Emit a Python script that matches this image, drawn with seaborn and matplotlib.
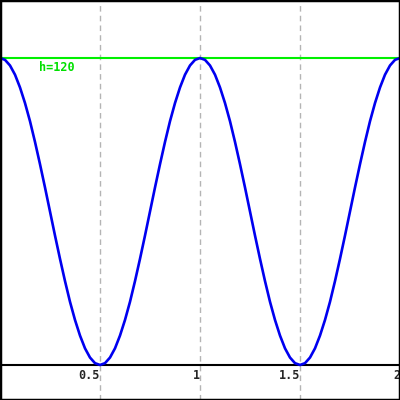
import matplotlib
matplotlib.use("Agg")
import matplotlib.pyplot as plt
from matplotlib.patches import Rectangle
import seaborn as sns
import pandas as pd

# x positions (step 0.025 from 0 to 2)
x_values = [round(i * 0.025, 3) for i in range(81)]

# height values (one period 0..1, repeated)
half_period = [120, 119.3, 117.1, 113.5, 108.5, 102.4, 95.3, 87.2, 78.5, 69.4,
               60, 50.6, 41.5, 32.8, 24.7, 17.6, 11.5, 6.5, 2.9, 0.7, 0]
period = half_period + half_period[-2::-1]          # 0 .. 1 (41 values)
h_values = period + period[1:]                      # 0 .. 2 (81 values)

h_line = 120
h_label = "h=120"
tick_positions = [0.5, 1, 1.5, 2]
tick_labels = ["0.5", "1", "1.5", "2"]

df = pd.DataFrame({"x": x_values, "h": h_values})

sns.set_style("white")
plt.rcParams["font.family"] = ["DejaVu Sans Mono", "DejaVu Sans"]

fig = plt.figure(figsize=(4, 4), dpi=100)
fig.patch.set_facecolor("white")
ax = fig.add_axes([0, 0, 1, 1])
ax.set_facecolor("white")

for gx in [0.5, 1, 1.5]:
    ax.axvline(gx, color="#b4b4b4", lw=1, ls=(0, (4, 3)), zorder=1)

ax.axhline(h_line, color="#00f000", lw=1.5, zorder=2)

sns.lineplot(data=df, x="x", y="h", ax=ax, color="#0000f0", lw=1.9,
             zorder=3, legend=False)

ax.text(0.195, h_line - 1.2, h_label, color="#00e000", fontsize=8.5,
        fontweight="bold", ha="left", va="top", zorder=4)

ax.set_xlim(0, 2)
ax.set_ylim(-13.7, 142.7)

for s in ["left", "right", "top"]:
    ax.spines[s].set_visible(False)
ax.spines["bottom"].set_position(("data", 0))
ax.spines["bottom"].set_color("black")
ax.spines["bottom"].set_linewidth(1.5)

ax.set_xticks(tick_positions)
ax.set_xticklabels(tick_labels, fontsize=8.5, fontweight="bold")
for lab in ax.get_xticklabels():
    lab.set_horizontalalignment("right")
ax.tick_params(axis="x", length=0, pad=3)
ax.set_yticks([])
ax.set_xlabel("")
ax.set_ylabel("")

# image frame
fig.add_artist(Rectangle((0, 0), 1, 1, transform=fig.transFigure,
                         fill=False, edgecolor="black", lw=2.5, zorder=10))

fig.savefig("out.png", dpi=100)
